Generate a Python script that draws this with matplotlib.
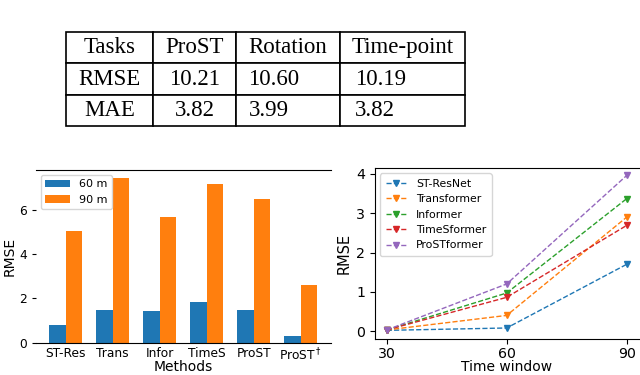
import numpy as np
import matplotlib.pyplot as plt

# table values
table_header = ['Tasks', 'ProST', 'Rotation', 'Time-point']
table_rows = [['RMSE', '10.21', '10.60', '10.19'],
              ['MAE', '3.82', '3.99', '3.82']]

# bar chart
methods = ['ST-Res', 'Trans', 'Infor', 'TimeS', 'ProST', r'ProST$^\dagger$']
rmse_60 = [0.82, 1.47, 1.42, 1.86, 1.47, 0.32]
rmse_90 = [5.05, 7.44, 5.67, 7.20, 6.52, 2.59]

# line chart
windows = [30, 60, 90]
line_names = ['ST-ResNet', 'Transformer', 'Informer', 'TimeSformer', 'ProSTformer']
line_vals = [[0.02, 0.08, 1.70],
             [0.03, 0.40, 2.90],
             [0.03, 0.97, 3.37],
             [0.03, 0.86, 2.69],
             [0.03, 1.20, 3.96]]

fig = plt.figure(figsize=(6.4, 3.75), dpi=100)

# --- table ---
axt = fig.add_axes([66/640, 1-126/375, 399/640, 94/375])
axt.axis('off')
tab = axt.table(cellText=table_rows, colLabels=table_header, cellLoc='center',
                colWidths=[87, 83, 104, 125], bbox=[0, 0, 1, 1])
tab.auto_set_font_size(False)
for (r, c), cell in tab.get_celld().items():
    cell.set_linewidth(1.2)
    cell.get_text().set_fontfamily('Liberation Serif')
    cell.get_text().set_fontsize(16.5)
    if r > 0 and c >= 2:
        cell._loc = 'left'
        cell.get_text().set_horizontalalignment('left')
        cell.PAD = 0.12

# --- bar chart ---
ax1 = fig.add_axes([36/640, 1-342.7/375, 294.5/640, 172.7/375])
x = np.arange(len(methods))
w = 0.35
ax1.bar(x - w/2, rmse_60, w, label='60 m', color='tab:blue')
ax1.bar(x + w/2, rmse_90, w, label='90 m', color='tab:orange')
ax1.set_xticks(x)
ax1.set_xticklabels(methods, fontsize=8.8)
ax1.set_yticks([0, 2, 4, 6])
ax1.tick_params(axis='y', labelsize=8.8, length=3)
ax1.tick_params(axis='x', length=0, pad=3)
ax1.spines['left'].set_visible(False)
ax1.spines['right'].set_visible(False)
ax1.set_ylabel('RMSE', fontsize=10, labelpad=2)
ax1.set_xlabel('Methods', fontsize=10, labelpad=-2.5)
ax1.legend(loc='upper left', fontsize=8, handlelength=2.2, borderaxespad=0.45)

# --- line chart ---
ax2 = fig.add_axes([374.7/640, 1-339/375, 264/640, 171/375])
colors = ['tab:blue', 'tab:orange', 'tab:green', 'tab:red', 'tab:purple']
for name, vals, col in zip(line_names, line_vals, colors):
    ax2.plot(windows, vals, '--v', color=col, label=name, linewidth=1, markersize=4.5)
ax2.set_xlim(27, 93)
ax2.set_ylim(-0.2, 4.15)
ax2.set_xticks(windows)
ax2.set_yticks([0, 1, 2, 3, 4])
ax2.spines['right'].set_visible(False)
ax2.tick_params(labelsize=10.2)
ax2.tick_params(axis='x', pad=2)
ax2.set_ylabel('RMSE', fontsize=10.5, labelpad=3)
ax2.set_xlabel('Time window', fontsize=10, labelpad=-0.5)
ax2.legend(loc='upper left', fontsize=7.8, borderpad=0.5)

fig.savefig('out.png', dpi=100)
